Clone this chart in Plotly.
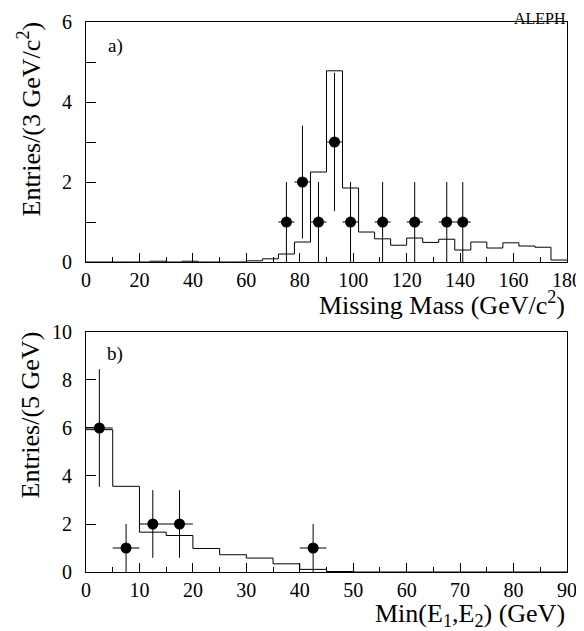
import plotly.graph_objects as go

# ---- Panel a) Missing mass ----
mm_edges = [0, 6, 12, 18, 24, 30, 36, 42, 48, 54, 60, 66, 72, 78, 84, 90, 96, 102, 108,
            114, 120, 126, 132, 138, 144, 150, 156, 162, 168, 174, 180]
mm_mc = [0, 0, 0, 0, 0.02, 0, 0.02, 0, 0, 0, 0.03, 0.08, 0.2, 0.5, 2.25, 4.78, 1.85, 0.75,
         0.58, 0.42, 0.6, 0.49, 0.57, 0.3, 0.5, 0.35, 0.48, 0.4, 0.37, 0.05]
mm_x = [75, 81, 87, 93, 99, 111, 123, 135, 141]
mm_y = [1, 2, 1, 3, 1, 1, 1, 1, 1]
mm_err = [1.0, 1.41, 1.0, 1.73, 1.0, 1.0, 1.0, 1.0, 1.0]
mm_xerr = 3

# ---- Panel b) Min(E1,E2) ----
e_edges = [0, 5, 10, 15, 20, 25, 30, 35, 40, 45, 50, 55, 60, 65, 70, 75, 80, 85, 90]
e_mc = [5.93, 3.57, 1.66, 1.52, 0.98, 0.72, 0.58, 0.34, 0.11, 0.02, 0, 0, 0, 0, 0, 0, 0, 0]
e_x = [2.5, 7.5, 12.5, 17.5, 42.5]
e_y = [6, 1, 2, 2, 1]
e_err = [2.45, 1.0, 1.41, 1.41, 1.0]
e_xerr = 2.5

FONT = "Liberation Serif, Times New Roman, serif"
fig = go.Figure()

def step_trace(edges, vals, xa, ya):
    return go.Scatter(x=edges, y=list(vals) + [vals[-1]], mode="lines", line_shape="hv",
                      line=dict(color="black", width=1), xaxis=xa, yaxis=ya,
                      showlegend=False, hoverinfo="skip")

def pts_trace(x, y, err, xerr, xa, ya):
    return go.Scatter(x=x, y=y, mode="markers",
                      marker=dict(color="black", size=11, symbol="circle"),
                      error_y=dict(type="data", array=err, color="black", thickness=1, width=0),
                      error_x=dict(type="constant", value=xerr, color="black", thickness=1, width=0),
                      xaxis=xa, yaxis=ya, showlegend=False)

fig.add_trace(step_trace(mm_edges, mm_mc, "x", "y"))
fig.add_trace(pts_trace(mm_x, mm_y, mm_err, mm_xerr, "x", "y"))
fig.add_trace(step_trace(e_edges, e_mc, "x2", "y2"))
fig.add_trace(pts_trace(e_x, e_y, e_err, e_xerr, "x2", "y2"))

ax_common = dict(showline=True, linecolor="black", linewidth=1, mirror=True,
                 ticks="inside", tickcolor="black", showgrid=False, zeroline=False,
                 automargin=False, ticklabeloverflow="allow",
                 tickfont=dict(family=FONT, size=20, color="black"))

# page has an 8px body margin, so the figure is offset by 8px
fig.update_layout(
    width=576, height=623, plot_bgcolor="white", paper_bgcolor="white",
    margin=dict(l=78, r=17, t=14, b=59, autoexpand=False),
    xaxis=dict(domain=[0, 1], anchor="y", range=[0, 180], dtick=20, tick0=0, ticklen=9,
               minor=dict(dtick=10, ticklen=5, ticks="inside", tickcolor="black"), **ax_common),
    yaxis=dict(domain=[0.5636, 1], anchor="x", range=[0, 6], dtick=2, tick0=0, ticklen=10,
               ticklabelstandoff=9,
               minor=dict(dtick=1, ticklen=10, ticks="inside", tickcolor="black"), **ax_common),
    xaxis2=dict(domain=[0, 1], anchor="y2", range=[0, 90], dtick=10, tick0=0, ticklen=9,
                minor=dict(dtick=5, ticklen=5, ticks="inside", tickcolor="black"), **ax_common),
    yaxis2=dict(domain=[0, 0.4364], anchor="x2", range=[0, 10], dtick=2, tick0=0, ticklen=10,
                ticklabelstandoff=9, **ax_common),
)

ann_font = dict(family=FONT, size=26, color="black")
fig.add_annotation(text="Missing Mass (GeV/c<sup>2</sup>)", xref="paper", yref="paper",
                   x=1, y=0.5636, yshift=-23, xanchor="right", yanchor="top",
                   showarrow=False, font=ann_font)
fig.add_annotation(text="Min(E<sub>1</sub>,E<sub>2</sub>) (GeV)", xref="paper", yref="paper",
                   x=1, y=0, yshift=-25, xanchor="right", yanchor="top",
                   showarrow=False, font=ann_font)
fig.add_annotation(text="Entries/(3 GeV/c<sup>2</sup>)", xref="paper", yref="paper",
                   x=0, xshift=-56, y=1, yshift=2, xanchor="center", yanchor="top",
                   textangle=-90, showarrow=False, font=ann_font)
fig.add_annotation(text="Entries/(5 GeV)", xref="paper", yref="paper",
                   x=0, xshift=-56, y=0.4364, yshift=2, xanchor="center", yanchor="top",
                   textangle=-90, showarrow=False, font=ann_font)
fig.add_annotation(text="ALEPH", xref="paper", yref="paper", x=1, y=1, yshift=-6,
                   xanchor="right", yanchor="bottom", showarrow=False, borderpad=0,
                   font=dict(family=FONT, size=16, color="black"))
fig.add_annotation(text="a)", xref="x", yref="y", x=11, y=5.4, xanchor="center",
                   yanchor="middle", showarrow=False, font=dict(family=FONT, size=19, color="black"))
fig.add_annotation(text="b)", xref="x2", yref="y2", x=5.5, y=9.1, xanchor="center",
                   yanchor="middle", showarrow=False, font=dict(family=FONT, size=19, color="black"))

fig.write_html("out.html")
